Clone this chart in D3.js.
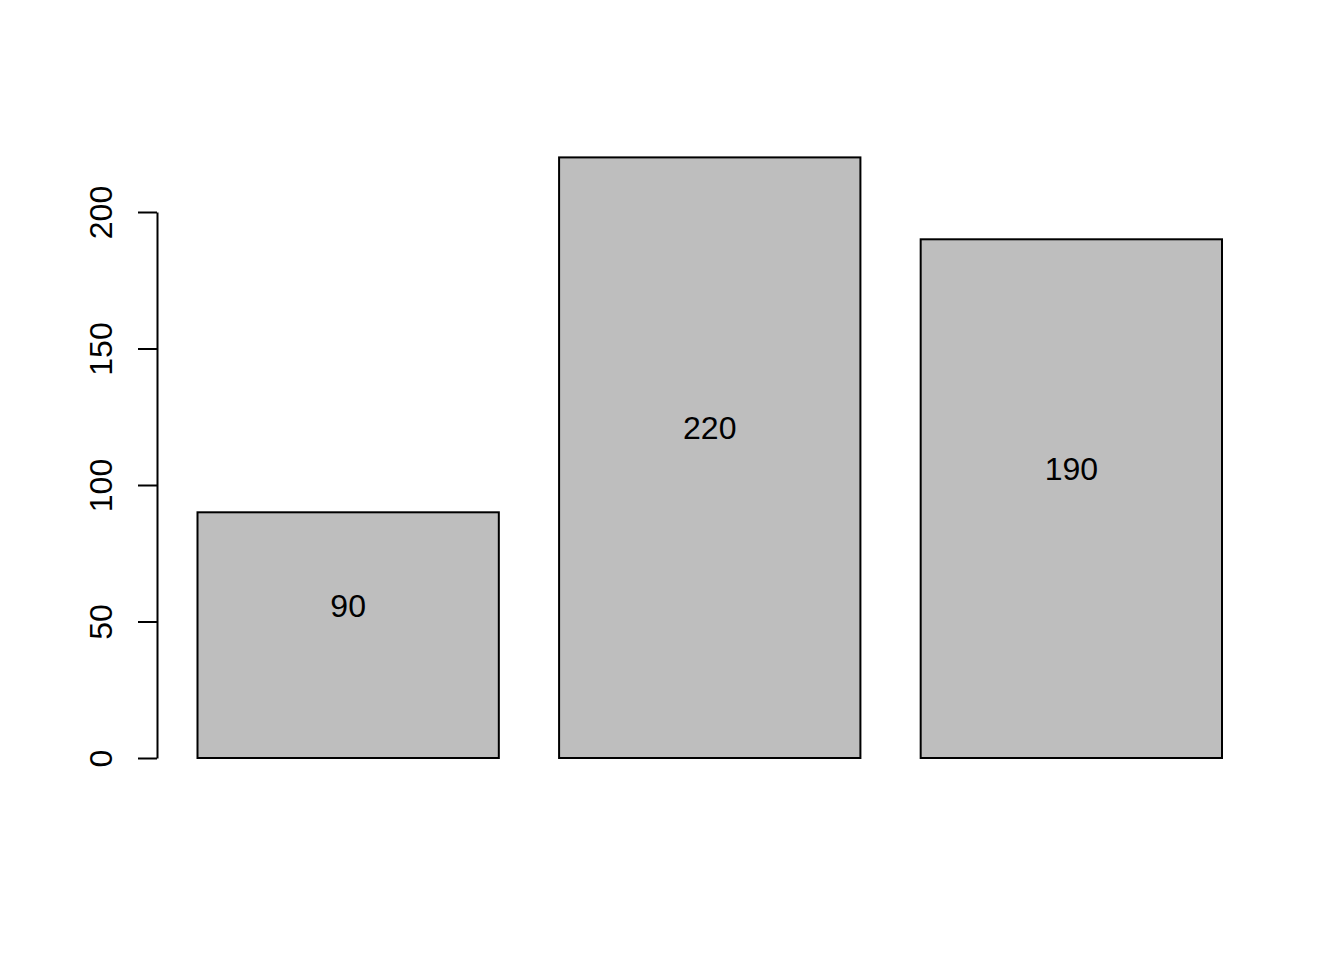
<!DOCTYPE html>
<html><head><meta charset="utf-8">
<script src="https://cdn.jsdelivr.net/npm/d3@7"></script>
<style>body{margin:0;background:#fff}svg{display:block}</style>
</head><body>
<script>
const categories = ["A", "B", "C"];
const values = [90, 220, 190];
const yTicks = [0, 50, 100, 150, 200];

const W = 1344, H = 960;
const svg = d3.select("body").append("svg").attr("width", W).attr("height", H)
  .style("font-family", "'Liberation Sans', Arial, sans-serif");

// R barplot geometry: width 1, space 0.2
const x = d3.scaleLinear().domain([0.2, 3.6]).range([197.5, 1222]);
const y = d3.scaleLinear().domain([0, 200]).range([758, 212]);

const starts = categories.map((c, i) => 0.2 + i * 1.2);

svg.selectAll("rect.bar").data(values).enter().append("rect")
  .attr("class", "bar")
  .attr("x", (d, i) => x(starts[i]))
  .attr("width", (d, i) => x(starts[i] + 1) - x(starts[i]))
  .attr("y", d => y(d))
  .attr("height", d => y(0) - y(d))
  .attr("fill", "#BEBEBE").attr("stroke", "#000").attr("stroke-width", 2);

svg.selectAll("text.val").data(values).enter().append("text")
  .attr("class", "val")
  .attr("x", (d, i) => x(starts[i] + 0.5))
  .attr("y", d => y(d / 2 + 11) + 11.5)
  .attr("text-anchor", "middle")
  .attr("font-size", 32).attr("fill", "#000")
  .text(d => d);

// y axis
const axisX = 157;
const axis = svg.append("g").attr("transform", `translate(${axisX},0)`)
  .call(d3.axisLeft(y).tickValues(yTicks).tickSize(19).tickSizeOuter(0).tickFormat(d3.format("d")));
axis.select(".domain").attr("stroke", "#000").attr("stroke-width", 2);
axis.selectAll(".tick line").attr("stroke", "#000").attr("stroke-width", 2);
axis.selectAll(".tick text")
  .attr("font-size", 32).attr("font-family", "'Liberation Sans', Arial, sans-serif")
  .attr("fill", "#000")
  .attr("text-anchor", "middle").attr("dy", null)
  .attr("x", null)
  .attr("transform", `translate(${111.5 - axisX},0) rotate(-90)`);
</script>
</body></html>
